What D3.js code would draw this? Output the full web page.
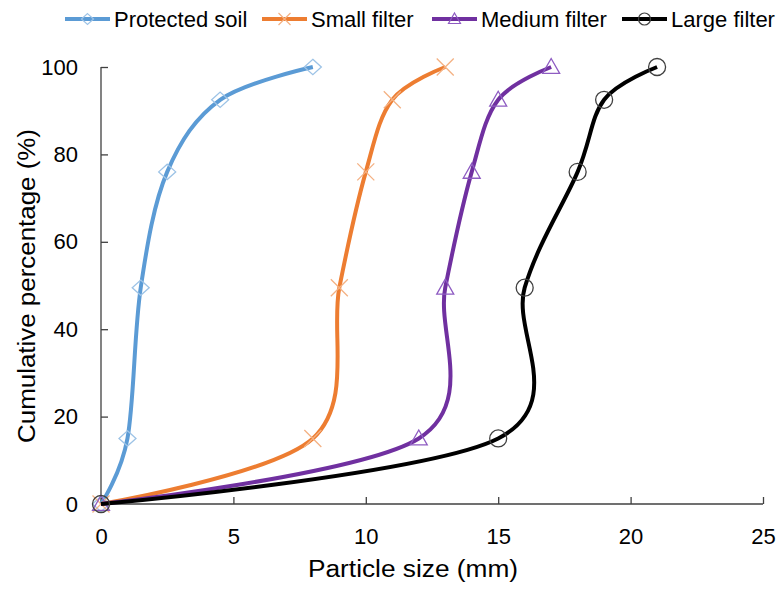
<!DOCTYPE html>
<html><head><meta charset="utf-8">
<script src="https://cdn.jsdelivr.net/npm/d3@7"></script>
<style>body{margin:0;background:#fff}text{font-family:"Liberation Sans",Arial,sans-serif;fill:#000}</style>
</head><body><svg id="c" width="784" height="589"></svg>
<script>
const seriesNames = ["Protected soil","Small filter","Medium filter","Large filter"];
const cumulative = [0, 15, 49.5, 76, 92.5, 100];
const protectedSoil = [0, 1, 1.5, 2.5, 4.5, 8];
const smallFilter = [0, 8, 9, 10, 11, 13];
const mediumFilter = [0, 12, 13, 14, 15, 17];
const largeFilter = [0, 15, 16, 18, 19, 21];
const xTicks = [0,5,10,15,20,25];
const yTicks = [0,20,40,60,80,100];

const lineColors = ["#5B9BD5","#ED7D31","#7030A0","#000000"];
const markColors = ["#9DC3E6","#F4B183","#8E5CC2","#404040"];
const markers = ["diamond","cross","triangle","circle"];
const sizes = [protectedSoil, smallFilter, mediumFilter, largeFilter];

const svg = d3.select("#c");
const x = d3.scaleLinear().domain([0,25]).range([101,763]);
const y = d3.scaleLinear().domain([0,100]).range([504,67]);

const ax = "#404040";
const gx = svg.append("g").attr("transform","translate(0,504)")
  .call(d3.axisBottom(x).tickValues(xTicks).tickSize(-7).tickPadding(24));
const gy = svg.append("g").attr("transform","translate(101,0)")
  .call(d3.axisLeft(y).tickValues(yTicks).tickSize(-7).tickPadding(23));
[gx,gy].forEach(g=>{
  g.select(".domain").attr("stroke",ax).attr("stroke-width",1.3);
  g.selectAll(".tick line").attr("stroke",ax).attr("stroke-width",1.3);
  g.selectAll(".tick text").attr("font-size",22).attr("font-family","'Open Sans', sans-serif").attr("fill","#000");
});
gx.select(".domain").attr("d","M101,0H763");
gy.select(".domain").attr("d","M0,504V67");

svg.append("text").attr("x",413).attr("y",577).attr("text-anchor","middle").attr("font-size",23)
  .attr("textLength",210).attr("lengthAdjust","spacingAndGlyphs").text("Particle size (mm)");
svg.append("text").attr("transform","translate(35,286) rotate(-90)").attr("text-anchor","middle")
  .attr("font-size",23).attr("font-family","'Open Sans', sans-serif")
  .attr("textLength",314).attr("lengthAdjust","spacingAndGlyphs").text("Cumulative percentage (%)");

function markerPath(type, cx, cy, r){
  if(type==="diamond") return `M${cx},${cy-r*0.9}L${cx+r},${cy}L${cx},${cy+r*0.9}L${cx-r},${cy}Z`;
  if(type==="cross") return `M${cx-r},${cy-r}L${cx+r},${cy+r}M${cx+r},${cy-r}L${cx-r},${cy+r}`;
  if(type==="triangle") return `M${cx},${cy-r}L${cx+r},${cy+r*0.75}L${cx-r},${cy+r*0.75}Z`;
  return `M${cx-r},${cy}A${r},${r} 0 1,0 ${cx+r},${cy}A${r},${r} 0 1,0 ${cx-r},${cy}Z`;
}

const line = d3.line().x(d=>x(d[0])).y(d=>y(d[1])).curve(d3.curveCardinal.tension(0));
sizes.forEach((s,i)=>{
  const pts = s.map((v,j)=>[v,cumulative[j]]);
  svg.append("path").attr("d",line(pts)).attr("fill","none").attr("stroke",lineColors[i]).attr("stroke-width",4);
  pts.forEach(p=>{
    svg.append("path").attr("d",markerPath(markers[i],x(p[0]),y(p[1]),8.5))
      .attr("fill","none").attr("stroke",markColors[i]).attr("stroke-width",1.3);
  });
});

const legX = [65,262,432,622];
seriesNames.forEach((n,i)=>{
  const lx = legX[i], ly = 19;
  svg.append("line").attr("x1",lx).attr("x2",lx+45).attr("y1",ly).attr("y2",ly).attr("stroke",lineColors[i]).attr("stroke-width",4);
  svg.append("path").attr("d",markerPath(markers[i],lx+22.5,ly,6)).attr("fill","none").attr("stroke",markColors[i]).attr("stroke-width",1.2);
  svg.append("text").attr("x",lx+49).attr("y",ly+8).attr("font-size",22).text(n);
});
</script></body></html>
